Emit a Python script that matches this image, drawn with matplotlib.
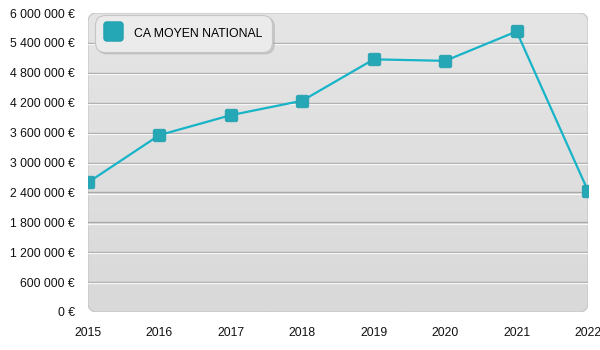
import matplotlib
matplotlib.use("Agg")
import matplotlib.pyplot as plt
import numpy as np
from matplotlib.patches import FancyBboxPatch
from matplotlib.path import Path
from matplotlib.lines import Line2D
import matplotlib.transforms as mtransforms

years = [2015, 2016, 2017, 2018, 2019, 2020, 2021, 2022]
ca_moyen = [2600000, 3550000, 3950000, 4240000, 5070000, 5040000, 5630000, 2430000]
y_ticks = [0, 600000, 1200000, 1800000, 2400000, 3000000, 3600000, 4200000, 4800000, 5400000, 6000000]
series_name = "CA MOYEN NATIONAL"

plt.rcParams['font.family'] = ['Liberation Sans', 'DejaVu Sans']

fig = plt.figure(figsize=(6, 3.5), dpi=100)
fig.patch.set_facecolor('white')
ax = fig.add_axes([88/600, 1-312/350, 500/600, 299/350])
ax.set_xlim(years[0], years[-1])
ax.set_ylim(y_ticks[0], y_ticks[-1])
ax.patch.set_visible(False)
for s in ax.spines.values():
    s.set_visible(False)

# rounded gradient background
bg = FancyBboxPatch((0, 0), 1, 1, boxstyle="round,pad=0,rounding_size=0.018",
                    transform=ax.transAxes, facecolor='none', edgecolor='#c4c4c4',
                    linewidth=0.8, zorder=0.5, mutation_aspect=500/299)
ax.add_patch(bg)
grad = np.linspace(0, 1, 256).reshape(-1, 1)
cmap = matplotlib.colors.LinearSegmentedColormap.from_list('bg', ['#e5e5e5', '#d9d9d9'])
im = ax.imshow(grad, cmap=cmap, aspect='auto', extent=[0, 1, 0, 1], origin='upper',
               transform=ax.transAxes, zorder=0.2)
im.set_clip_path(bg)

# grid lines with white emboss
white_off = mtransforms.offset_copy(ax.transData, fig=fig, x=0, y=-1.2, units='dots')
for v in y_ticks[1:-1]:
    ax.plot([years[0], years[-1]], [v, v], color='#a9a9a9', lw=1.0, zorder=1)
    ax.plot([years[0], years[-1]], [v, v], color='#f7f7f7', lw=0.9, zorder=1,
            transform=white_off)

# rounded square marker
r = 0.3
k = 0.5523 * r
verts = [(-1 + r, -1), (1 - r, -1), (1 - r + k, -1), (1, -1 + r - k), (1, -1 + r),
         (1, 1 - r), (1, 1 - r + k), (1 - r + k, 1), (1 - r, 1),
         (-1 + r, 1), (-1 + r - k, 1), (-1, 1 - r + k), (-1, 1 - r),
         (-1, -1 + r), (-1, -1 + r - k), (-1 + r - k, -1), (-1 + r, -1)]
codes = [Path.MOVETO, Path.LINETO, Path.CURVE4, Path.CURVE4, Path.CURVE4,
         Path.LINETO, Path.CURVE4, Path.CURVE4, Path.CURVE4,
         Path.LINETO, Path.CURVE4, Path.CURVE4, Path.CURVE4,
         Path.LINETO, Path.CURVE4, Path.CURVE4, Path.CURVE4]
rsq = Path(verts, codes)

ax.plot(years, ca_moyen, color='#17b4c8', lw=1.6, zorder=3)
ax.plot(years, ca_moyen, linestyle='none', marker=rsq, markersize=9,
        markerfacecolor='#25a7b6', markeredgecolor='#1f9eae', markeredgewidth=0.6, zorder=4)

# axes ticks
ax.set_xticks(years)
ax.set_xticklabels([str(y) for y in years])
ax.set_yticks(y_ticks)
ax.set_yticklabels([f"{v:,.0f} €".replace(",", " ") for v in y_ticks])
ax.tick_params(axis='both', length=0, labelsize=8.8, colors='#111111')
ax.tick_params(axis='y', pad=9.5)
ax.tick_params(axis='x', pad=10.5)

# legend
proxy = Line2D([], [], linestyle='none', marker=rsq, markersize=14,
               markerfacecolor='#25a7b6', markeredgecolor='#1f9eae', markeredgewidth=0.6)
leg = ax.legend(handles=[proxy], labels=[series_name], loc='upper left',
                bbox_to_anchor=(95/600, 1-15/350), bbox_transform=fig.transFigure,
                borderaxespad=0, fontsize=8.8, frameon=True, fancybox=True,
                borderpad=0.8, handlelength=1.4, handleheight=1.8, handletextpad=1.0,
                shadow={'color': '#9a9a9a', 'alpha': 0.35, 'ox': 1.5, 'oy': -1.5})
fr = leg.get_frame()
fr.set_facecolor('#ebebeb')
fr.set_edgecolor('#c6c6c6')
fr.set_alpha(1)
fr.set_linewidth(0.8)
fr.set_boxstyle("round,pad=0,rounding_size=0.8")
leg.set_zorder(10)

fig.savefig("out.png", dpi=100)
